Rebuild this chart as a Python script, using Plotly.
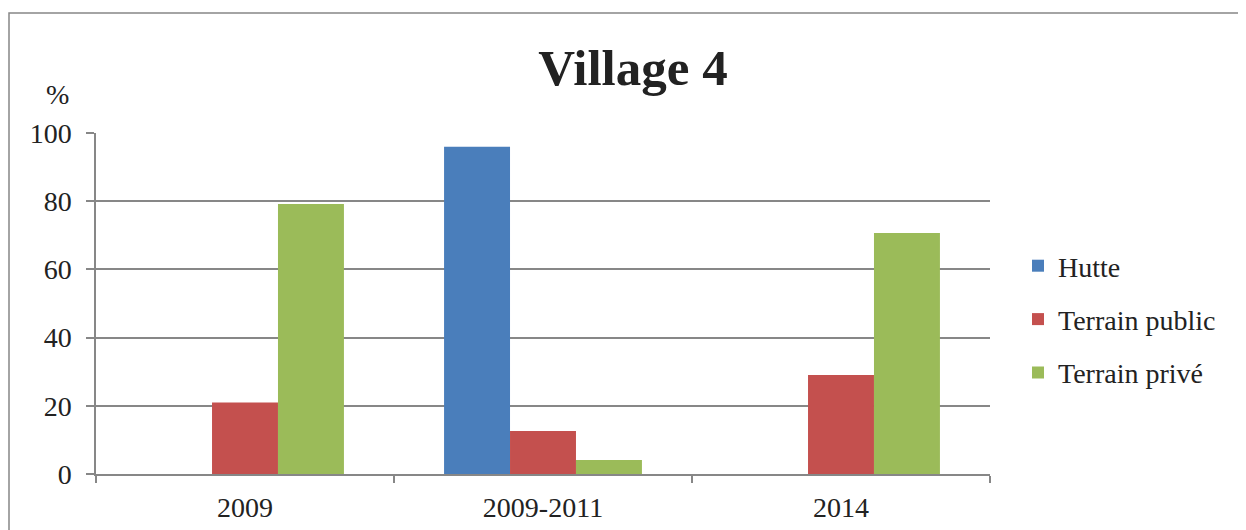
import plotly.graph_objects as go

categories = ["2009", "2009-2011", "2014"]
hutte = [None, 96, None]
terrain_public = [21, 12.6, 29]
terrain_prive = [79.2, 4.1, 70.7]
series_names = ["Hutte", "Terrain public", "Terrain privé"]
colors = ["#4A7EBB", "#C4504E", "#9BBB59"]
y_ticks = [0, 20, 40, 60, 80, 100]

FONT = "Liberation Serif"
GRID = "#878787"
TXT = "#222222"

W, H = 1238, 522
L, R, T, B = 88, 256, 125, 56
PW, PH = W - L - R, H - T - B

fig = go.Figure()
for i, (name, vals) in enumerate(zip(series_names, [hutte, terrain_public, terrain_prive])):
    fig.add_trace(go.Bar(
        x=categories, y=vals, name=name,
        marker=dict(color=colors[i], line=dict(width=0)),
        legendgroup=str(i),
    ))

fig.update_layout(
    width=W, height=H,
    margin=dict(l=L, r=R, t=T, b=B),
    paper_bgcolor="white", plot_bgcolor="white",
    barmode="group", bargap=0.336, bargroupgap=0,
    font=dict(family=FONT, size=28, color=TXT),
    title=dict(text="<b>Village 4</b>", x=625 / W, xanchor="center", xref="container",
               y=1 - 59 / H, yanchor="middle", yref="container",
               font=dict(family=FONT, size=51, color=TXT)),
    showlegend=True,
    legend=dict(x=1010 / W, xref="container", y=(H - 233) / H, yref="container",
                xanchor="left", yanchor="top",
                font=dict(family=FONT, size=28, color=TXT),
                tracegroupgap=14, bgcolor="rgba(0,0,0,0)"),
    xaxis=dict(showline=True, linecolor=GRID, linewidth=1.5, automargin=False,
               ticks="outside", tickson="boundaries", ticklen=7, tickcolor=GRID, tickwidth=1.5,
               showgrid=False, ticklabelstandoff=8,
               tickfont=dict(family=FONT, size=28, color=TXT)),
    yaxis=dict(range=[0, 100], tickvals=y_ticks, showline=True, linecolor=GRID, linewidth=1.5,
               automargin=False,
               ticks="outside", ticklen=8, tickcolor=GRID, tickwidth=1.5,
               showgrid=True, gridcolor=GRID, gridwidth=1.5, zeroline=False,
               ticklabelstandoff=9, tickfont=dict(family=FONT, size=28, color=TXT)),
)

fig.add_annotation(text="%", x=(49 - L) / PW, y=(T + PH - 86) / PH, xref="paper", yref="paper",
                   showarrow=False, xanchor="center", yanchor="middle",
                   font=dict(family=FONT, size=28, color=TXT))

fig.add_shape(type="rect", xref="paper", yref="paper",
              x0=(1 - L) / PW, x1=(W + 10 - L) / PW,
              y0=(T + PH - (H + 10)) / PH, y1=(T + PH - 5) / PH,
              line=dict(color=GRID, width=1.5), fillcolor="rgba(0,0,0,0)", layer="below")

fig.write_html("out.html")
